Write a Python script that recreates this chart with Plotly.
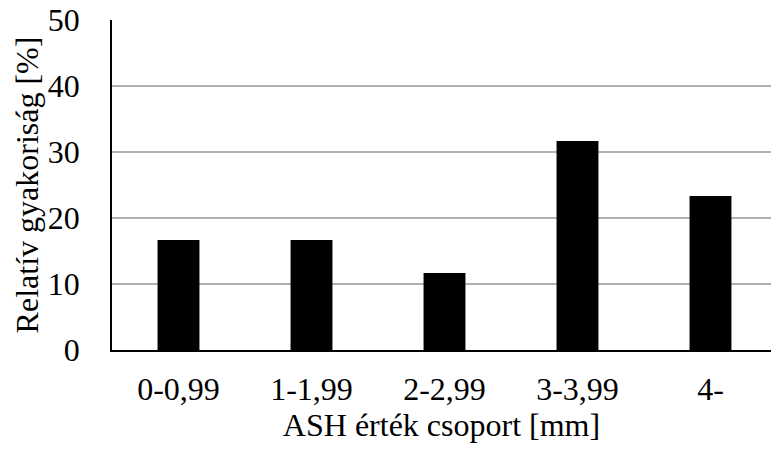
import plotly.graph_objects as go

# ASH value groups and their relative frequencies
categories = ["0-0,99", "1-1,99", "2-2,99", "3-3,99", "4-"]
rel_freq = [16.67, 16.67, 11.67, 31.67, 23.33]
y_ticks = [0, 10, 20, 30, 40, 50]

FONT = "Liberation Serif, Times New Roman, serif"
SIZE = 32

fig = go.Figure(
    go.Bar(
        x=list(range(len(categories))),
        y=rel_freq,
        width=0.315,
        marker=dict(color="#000000", line=dict(width=0)),
    )
)

fig.update_layout(
    width=771,
    height=450,
    margin=dict(l=112, r=0, t=20, b=100),
    paper_bgcolor="white",
    plot_bgcolor="white",
    showlegend=False,
    font=dict(family=FONT, size=SIZE, color="#000000"),
)

fig.update_xaxes(
    range=[-0.5, 4.455],
    tickmode="array",
    tickvals=list(range(len(categories))),
    ticktext=categories,
    showgrid=False,
    zeroline=False,
    showline=True,
    linecolor="#000000",
    linewidth=1.5,
    ticks="",
    ticklabelstandoff=10,
    tickfont=dict(family=FONT, size=SIZE),
    title=dict(text="ASH érték csoport [mm]", font=dict(family=FONT, size=SIZE), standoff=6),
)

fig.update_yaxes(
    range=[0, 50],
    tickmode="array",
    tickvals=y_ticks,
    showgrid=True,
    gridcolor="#b0b0b0",
    gridwidth=1.5,
    zeroline=False,
    showline=True,
    linecolor="#000000",
    linewidth=1.5,
    ticks="",
    ticklabelstandoff=24,
    tickfont=dict(family=FONT, size=SIZE),
    title=dict(text="Relatív gyakoriság [%]", font=dict(family=FONT, size=SIZE), standoff=0),
)

fig.write_html("out.html")
